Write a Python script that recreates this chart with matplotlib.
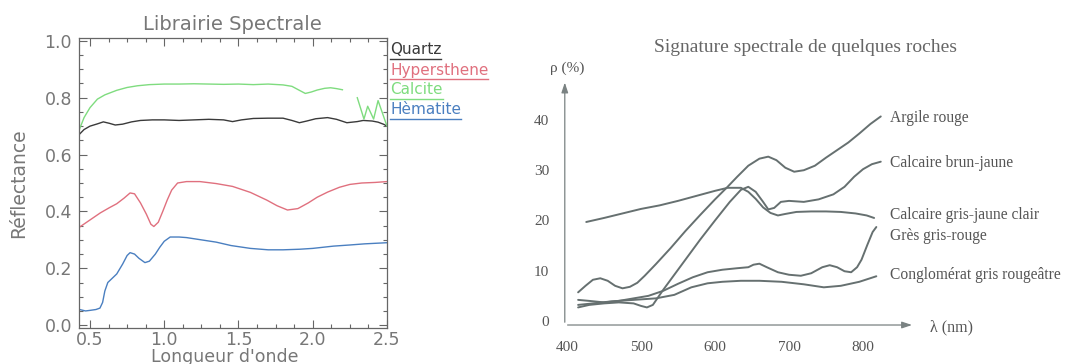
import numpy as np
import matplotlib.pyplot as plt
from matplotlib.lines import Line2D
from matplotlib.ticker import MultipleLocator

nan = np.nan

# ---- left panel: spectral library (wavelength in um, reflectance 0-1)
quartz_x = [0.43, 0.46, 0.50, 0.55, 0.59, 0.63, 0.67, 0.72, 0.78, 0.84, 0.92, 1.00, 1.10, 1.20,
            1.30, 1.40, 1.46, 1.52, 1.60, 1.70, 1.80, 1.86, 1.91, 1.96, 2.02, 2.10, 2.16, 2.23,
            2.30, 2.34, 2.40, 2.44, 2.48, 2.50]
quartz_y = [0.672, 0.688, 0.700, 0.708, 0.715, 0.710, 0.704, 0.707, 0.715, 0.720, 0.722, 0.722,
            0.720, 0.722, 0.724, 0.722, 0.716, 0.722, 0.727, 0.728, 0.728, 0.720, 0.712, 0.718,
            0.726, 0.730, 0.724, 0.712, 0.716, 0.720, 0.718, 0.714, 0.706, 0.700]

hyper_x = [0.43, 0.50, 0.57, 0.63, 0.68, 0.73, 0.77, 0.80, 0.84, 0.88, 0.91, 0.93, 0.96, 0.99,
           1.02, 1.05, 1.09, 1.15, 1.24, 1.35, 1.46, 1.58, 1.69, 1.76, 1.83, 1.90, 1.97, 2.03,
           2.10, 2.18, 2.25, 2.33, 2.42, 2.50]
hyper_y = [0.345, 0.370, 0.395, 0.413, 0.427, 0.447, 0.465, 0.462, 0.430, 0.390, 0.355, 0.347,
           0.362, 0.400, 0.440, 0.475, 0.500, 0.505, 0.505, 0.498, 0.488, 0.467, 0.440, 0.420,
           0.405, 0.410, 0.430, 0.450, 0.468, 0.485, 0.495, 0.500, 0.502, 0.505]

calcite_x = [0.43, 0.46, 0.50, 0.55, 0.60, 0.68, 0.75, 0.82, 0.90, 1.00, 1.10, 1.20, 1.30, 1.40,
             1.50, 1.60, 1.70, 1.80, 1.86, 1.91, 1.95, 1.99, 2.03, 2.08, 2.12, 2.16, 2.20, nan,
             2.30, 2.345, 2.37, 2.41, 2.44, 2.50]
calcite_y = [0.690, 0.730, 0.765, 0.795, 0.810, 0.826, 0.836, 0.842, 0.846, 0.848, 0.848, 0.849,
             0.848, 0.847, 0.848, 0.846, 0.848, 0.845, 0.840, 0.826, 0.815, 0.820, 0.827, 0.833,
             0.835, 0.832, 0.828, nan, 0.800, 0.725, 0.770, 0.725, 0.790, 0.700]

hema_x = [0.43, 0.47, 0.50, 0.54, 0.567, 0.585, 0.60, 0.62, 0.64, 0.68, 0.72, 0.75, 0.77, 0.80,
          0.83, 0.87, 0.90, 0.94, 0.97, 1.00, 1.04, 1.10, 1.15, 1.25, 1.35, 1.45, 1.58, 1.70,
          1.80, 1.91, 2.00, 2.14, 2.25, 2.35, 2.50]
hema_y = [0.055, 0.050, 0.052, 0.055, 0.060, 0.080, 0.120, 0.150, 0.160, 0.180, 0.215, 0.245,
          0.255, 0.250, 0.235, 0.220, 0.225, 0.250, 0.274, 0.295, 0.310, 0.310, 0.308, 0.300,
          0.292, 0.280, 0.270, 0.265, 0.265, 0.267, 0.270, 0.278, 0.282, 0.286, 0.290]

lib_names = ['Quartz', 'Hypersthene', 'Calcite', 'Hèmatite']
lib_colors = ['#3a3a3a', '#e0707e', '#7fdc7f', '#4a7fc0']

# ---- right panel: rock signatures (wavelength nm, reflectance %)
argile_x = [415, 425, 435, 445, 455, 465, 475, 485, 495, 505, 520, 540, 560, 580, 600, 617, 630,
            645, 660, 672, 683, 695, 707, 720, 735, 750, 765, 780, 795, 810, 824]
argile_y = [6.0, 7.3, 8.5, 8.8, 8.3, 7.3, 6.8, 7.1, 7.9, 9.3, 11.6, 14.8, 18.2, 21.4, 24.5, 27.0,
            29.0, 31.2, 32.6, 33.0, 32.3, 30.8, 30.0, 30.3, 31.2, 32.8, 34.3, 35.8, 37.6, 39.5, 41.0]

brun_x = [415, 430, 450, 470, 490, 500, 508, 516, 523, 530, 545, 560, 580, 600, 620, 635, 645,
          655, 665, 672, 680, 689, 700, 720, 740, 760, 775, 788, 800, 812, 824]
brun_y = [3.0, 3.5, 3.8, 4.0, 3.8, 3.3, 3.0, 3.5, 5.0, 6.5, 9.5, 12.5, 16.5, 20.3, 24.0, 26.4,
          27.0, 26.0, 24.0, 22.5, 22.8, 24.0, 24.2, 24.0, 24.5, 25.5, 27.0, 29.0, 30.5, 31.5, 32.0]

grisjaune_x = [426, 450, 475, 500, 525, 550, 575, 600, 617, 635, 645, 655, 665, 675, 685, 695,
               710, 730, 750, 770, 790, 805, 815]
grisjaune_y = [20.0, 20.8, 21.7, 22.6, 23.3, 24.2, 25.2, 26.2, 26.8, 26.8, 26.0, 24.6, 22.9, 21.8,
               21.3, 21.6, 22.0, 22.1, 22.1, 22.0, 21.7, 21.3, 20.8]

gres_x = [415, 430, 450, 470, 490, 510, 530, 550, 570, 590, 610, 630, 645, 652, 660, 670, 685,
          700, 716, 730, 745, 755, 765, 775, 784, 792, 798, 806, 813, 818]
gres_y = [4.5, 4.3, 4.0, 4.3, 4.8, 5.3, 6.3, 7.7, 9.0, 10.0, 10.5, 10.8, 11.0, 11.5, 11.7, 11.0,
          10.0, 9.5, 9.3, 9.8, 11.0, 11.4, 11.0, 10.2, 10.0, 11.0, 12.5, 15.5, 18.0, 19.0]

conglo_x = [415, 435, 460, 490, 520, 545, 568, 590, 610, 635, 660, 690, 720, 747, 770, 795, 818]
conglo_y = [3.5, 3.8, 4.2, 4.5, 4.8, 5.5, 7.0, 7.8, 8.1, 8.3, 8.3, 8.1, 7.6, 7.0, 7.3, 8.1, 9.2]

rock_labels = ['Argile rouge', 'Calcaire brun-jaune', 'Calcaire gris-jaune clair',
               'Grès gris-rouge', 'Conglomérat gris rougeâtre']
rock_label_y = [40.7, 31.8, 21.4, 17.2, 9.45]
rock_yticks = [0, 10, 20, 30, 40]
rock_xticks = [400, 500, 600, 700, 800]

fig = plt.figure(figsize=(10.69, 3.64), dpi=100)
gray = '#777777'
sans = 'DejaVu Sans'
serif = 'Liberation Serif'

# ================= left panel
ax = fig.add_axes([0.0739, 0.0989, 0.2881, 0.7967])
for xs, ys, c in zip([quartz_x, hyper_x, calcite_x, hema_x],
                     [quartz_y, hyper_y, calcite_y, hema_y], lib_colors):
    ax.plot(xs, ys, color=c, lw=1.0)
ax.set_xlim(0.426, 2.5)
ax.set_ylim(-0.01, 1.01)
ax.xaxis.set_major_locator(MultipleLocator(0.5))
ax.xaxis.set_minor_locator(MultipleLocator(0.125))
ax.yaxis.set_major_locator(MultipleLocator(0.2))
ax.yaxis.set_minor_locator(MultipleLocator(0.05))
ax.xaxis.set_major_formatter(plt.FuncFormatter(lambda v, p: f'{v:.1f}'))
ax.yaxis.set_major_formatter(plt.FuncFormatter(lambda v, p: f'{v:.1f}'))
ax.tick_params(which='both', direction='in', top=True, right=True, color='#666666',
               labelcolor=gray, labelsize=12.5)
ax.tick_params(which='major', length=6, width=0.8, pad=5)
ax.tick_params(axis='x', which='major', pad=2)
ax.tick_params(which='minor', length=3, width=0.8)
for s in ax.spines.values():
    s.set_color('#666666')
    s.set_linewidth(0.9)
for lab in ax.get_xticklabels() + ax.get_yticklabels():
    lab.set_family(sans)

fig.text(232 / 1069, 1 - 24 / 364, 'Librairie Spectrale', ha='center', va='center',
         fontsize=14, color=gray, family=sans)
fig.text(19 / 1069, 1 - 183 / 364, 'Réflectance', ha='center', va='center', rotation=90,
         fontsize=13.5, color=gray, family=sans)
fig.text(225 / 1069, 1 - 362 / 364, "Longueur d'onde", ha='center', va='baseline',
         fontsize=12.5, color=gray, family=sans)

legend_texts = []
for i, (name, c) in enumerate(zip(lib_names, lib_colors)):
    t = fig.text(390 / 1069, 1 - (50 + 20 * i) / 364, name, ha='left', va='center',
                 fontsize=11, color=c, family=sans)
    legend_texts.append((t, c))

# ================= right panel
rx = fig.add_axes([0.4958, 0.00357, 0.4361, 0.8698])
rx.set_xlim(350, 980)
rx.set_ylim(-8, 55)
rx.axis('off')
line_c = '#667070'
for xs, ys in [(argile_x, argile_y), (brun_x, brun_y), (grisjaune_x, grisjaune_y),
               (gres_x, gres_y), (conglo_x, conglo_y)]:
    rx.plot(xs, ys, color=line_c, lw=1.4, solid_capstyle='round')

axis_c = '#7a8282'
rx.annotate('', xy=(397, 48.3), xytext=(397, -0.5),
            arrowprops=dict(arrowstyle='-|>,head_length=0.6,head_width=0.2', color=axis_c, lw=0.9))
rx.annotate('', xy=(870, -0.5), xytext=(397, -0.5),
            arrowprops=dict(arrowstyle='-|>,head_length=0.6,head_width=0.2', color=axis_c, lw=0.9))

txt_c = '#555555'
for v in rock_yticks:
    rx.text(376, v, str(v), ha='right', va='center', fontsize=11, color=txt_c, family=serif)
for v in rock_xticks:
    rx.text(v, -4.9, str(v), ha='center', va='center', fontsize=11, color=txt_c, family=serif)
for lab, yv in zip(rock_labels, rock_label_y):
    rx.text(836, yv, lab, ha='left', va='center', fontsize=11.2, color=txt_c, family=serif)
rx.text(400, 50.6, 'ρ (%)', ha='center', va='center', fontsize=11, color=txt_c, family=serif)
rx.text(890, -0.9, 'λ (nm)', ha='left', va='center', fontsize=11.5, color=txt_c, family=serif)

fig.text(805 / 1069, 1 - 48 / 364, 'Signature spectrale de quelques roches', ha='center',
         va='center', fontsize=14, color='#666666', family=serif)

# underlines for the legend names
fig.canvas.draw()
r = fig.canvas.get_renderer()
inv = fig.transFigure.inverted()
for t, c in legend_texts:
    bb = t.get_window_extent(r)
    (x0, y0), (x1, y1) = inv.transform([(bb.x0, bb.y0), (bb.x1, bb.y1)])
    fig.add_artist(Line2D([x0, x1], [y0 - 1.5 / 364] * 2, color=c, lw=1.0,
                          transform=fig.transFigure))

fig.savefig('out.png', dpi=100, facecolor='white')
